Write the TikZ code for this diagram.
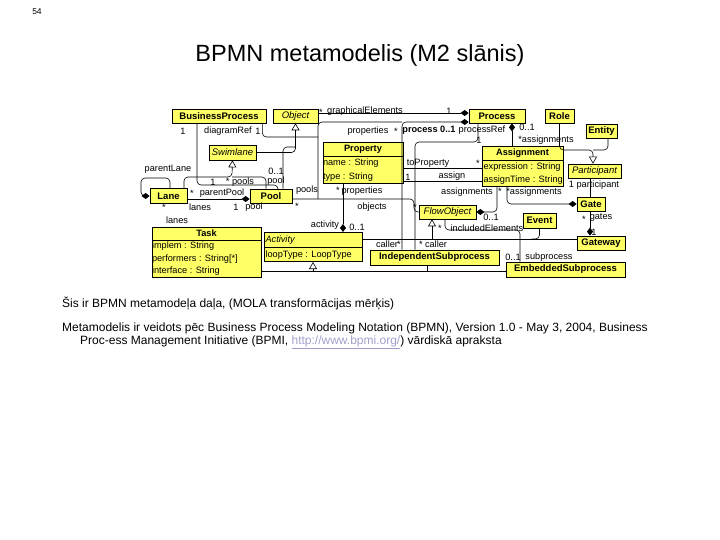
\documentclass[tikz,border=0pt]{standalone}
\usepackage{fontspec}
\setmainfont{Liberation Sans}
\usetikzlibrary{arrows.meta,positioning}
\definecolor{umlyellow}{RGB}{255,255,102}
\definecolor{linkgray}{RGB}{160,160,205}
\newcommand{\dfont}{\fontsize{9.2}{10.5}\selectfont}
\newcommand{\cfont}{\fontsize{9.5}{11}\selectfont}

\tikzset{
  cls/.style={draw, fill=umlyellow, font=\cfont\bfseries, inner sep=0pt, minimum height=14pt, line width=0.7pt},
  abscls/.style={cls, font=\cfont\itshape},
  multicls/.style={draw, fill=umlyellow, font=\dfont, inner sep=0pt, line width=0.7pt},
  lbl/.style={font=\dfont, inner sep=0pt},
  assoc/.style={line width=0.6pt, rounded corners=4pt},
  comp/.style={assoc, -{Diamond[length=8pt,width=6pt]}},
  gen/.style={assoc, -{Triangle[open,length=7pt,width=8pt]}},
}

\begin{document}
\begin{tikzpicture}[x=1pt,y=-1pt]
\useasboundingbox (0,0) rectangle (720,540);

% page number, title and notes
\node[font=\fontsize{8.5}{9}\selectfont] (pagenum) at (37,12) {54};
\node[font=\fontsize{23.5}{27}\selectfont] (title) at (360,55) {BPMN metamodelis (M2 slānis)};
\node[anchor=west, font=\fontsize{12}{14}\selectfont, inner sep=0pt] (note1) at (62,304) {Šis ir BPMN metamodeļa daļa, (MOLA transformācijas mērķis)};
\node[anchor=west, font=\fontsize{12}{14}\selectfont, inner sep=0pt] (note2) at (62,328) {Metamodelis ir veidots pēc Business Process Modeling Notation (BPMN), Version 1.0 - May 3, 2004, Business};
\node[anchor=west, font=\fontsize{12}{14}\selectfont, inner sep=0pt] (note3) at (80,342) {Proc-ess Management Initiative (BPMI, {\color{linkgray}\underline{http://www.bpmi.org/}}) vārdiskā apraksta};

% classes
\node[cls, minimum width=94pt] (BusinessProcess) at (219,116) {BusinessProcess};
\node[abscls, minimum width=45pt] (Object) at (295.5,116) {Object};
\node[cls, minimum width=56pt] (Process) at (497,116) {Process};
\node[cls, minimum width=29pt] (Role) at (559.5,116) {Role};
\node[cls, minimum width=31pt] (Entity) at (601.5,131) {Entity};
\node[abscls, minimum width=47pt, minimum height=15pt] (Swimlane) at (232.5,152.5) {Swimlane};
\node[abscls, minimum width=53pt] (Participant) at (594.5,171) {Participant};
\node[cls, minimum width=37pt, minimum height=15pt] (Lane) at (168.5,196) {Lane};
\node[cls, minimum width=42pt] (Pool) at (271,196) {Pool};
\node[cls, minimum width=28pt] (Gate) at (591,204) {Gate};
\node[abscls, minimum width=57pt] (FlowObject) at (447.5,212) {FlowObject};
\node[cls, minimum width=33pt, minimum height=15pt] (Event) at (539.5,220.5) {Event};
\node[cls, minimum width=48pt] (Gateway) at (601,243) {Gateway};
\node[cls, minimum width=129pt, minimum height=15pt] (IndependentSubprocess) at (434.5,257.5) {IndependentSubprocess};
\node[cls, minimum width=119pt, minimum height=15pt] (EmbeddedSubprocess) at (565.5,269.5) {EmbeddedSubprocess};
\node[multicls] (Property) at (363,163) {\def\arraystretch{1.3}\begin{tabular}{@{}p{80pt}@{}}
  \centering\bfseries Property\tabularnewline\hline
  name : String\tabularnewline type : String\end{tabular}};
\node[multicls] (Assignment) at (522.5,166.5) {\def\arraystretch{1.27}\begin{tabular}{@{}p{81pt}@{}}
  \centering\bfseries Assignment\tabularnewline\hline
  \,expression : String\tabularnewline \,assignTime : String\end{tabular}};
\node[multicls] (Task) at (206.5,252.5) {\def\arraystretch{1.18}\begin{tabular}{@{}p{109pt}@{}}
  \centering\bfseries Task\tabularnewline\hline
  implem : String\tabularnewline performers : String[*]\tabularnewline interface : String\end{tabular}};
\node[multicls] (Activity) at (313,247) {\def\arraystretch{1.38}\begin{tabular}{@{}p{98pt}@{}}
  \,\itshape Activity\tabularnewline\hline
  \,loopType : LoopType\end{tabular}};

% junctions
\coordinate (jProp) at (402,122);
\coordinate (jObj) at (318,199);
\coordinate (jSwim) at (232,177);
\coordinate (jPart) at (593,150);
\coordinate (jFlow) at (432,239);
\coordinate (jAct) at (313,271);

% associations
\draw[comp] ([yshift=3pt]Object.east) -- ([yshift=3pt]Process.west);
\draw[comp] (IndependentSubprocess.north -| jProp) |- ([yshift=-6pt]Process.west);
\draw[assoc] (jProp) -| (jObj);
\draw[assoc] ([xshift=-4pt]BusinessProcess.south east) |- (318,137);
\draw[assoc] (BusinessProcess.south -| 197,0) |- (278,185) -- (Pool.north -| 278,0);
\draw[assoc] (Pool.north -| 283,0) |- (295.5,147);
\draw[comp] (Lane.north -| 170,0) |- (141,178) |- (Lane.west);
\draw[comp] (Lane.east |- 0,199) -- (Pool.west |- 0,199);
\draw[assoc] (Pool.east |- jObj) -- (414,199) |- (FlowObject.west);
\draw[comp] (Property.south -| 343,0) -- (Activity.north -| 343,0);
\draw[assoc] (Assignment.west |- 0,168) -- (Property.east |- 0,168);
\draw[assoc] (Assignment.west |- 0,181) -- (Property.east |- 0,181);
\draw[assoc] (Process.south -| 478,0) |- (415,142) -- (IndependentSubprocess.north -| 415,0);
\draw[comp] (Assignment.north -| 512,0) -- (Process.south -| 512,0);
\draw[comp] (Assignment.south -| 497,0) |- (FlowObject.east);
\draw[comp] (Assignment.south -| 507,0) |- (Gate.west);
\draw[assoc] (Gate.north -| 590,0) -- (Participant.south -| 590,0);
\draw[comp] (Gate.south -| 590,0) -- (Gateway.north -| 590,0);
\draw[assoc] (FlowObject.south -| 445,0) |- (520,230) -- (EmbeddedSubprocess.north -| 520,0);

% generalizations
\draw[gen] (Lane.north -| 184,0) |- (jSwim) -- (Swimlane.south);
\draw[assoc] (Pool.north -| 266,0) |- (jSwim);
\draw[gen] (Swimlane.east) -| (Object.south);
\draw[gen] (Role.south) |- (jPart) -- (Participant.north -| jPart);
\draw[assoc] (Entity.south -| 608,0) |- (jPart);
\draw[assoc] (Activity.east |- jFlow) -- (Gateway.west |- jFlow);
\draw[gen] (jFlow) -- (FlowObject.south -| jFlow);
\draw[assoc] (Event.south) |- ([xshift=-8pt]Event.south |- jFlow);
\draw[gen] (jAct) -- (Activity.south);
\draw[assoc] (Task.east |- jAct) -- (EmbeddedSubprocess.west |- jAct);
\draw[assoc] (IndependentSubprocess.south -| 427,0) -- (427,271);

% role names and multiplicities
\node[lbl] (mGe) at (321,112) {*};
\node[lbl] (rGe) at (365,111) {graphicalElements};
\node[lbl] (mGeP) at (449,111) {1};
\node[lbl] (mPools1) at (183,131) {1};
\node[lbl] (rDiag) at (228,131) {diagramRef};
\node[lbl] (mDiag) at (258,131) {1};
\node[lbl] (rProps) at (368,131) {properties};
\node[lbl] (mProps) at (396,131) {*};
\node[lbl, font=\dfont\bfseries] (rProc) at (429,130) {process 0..1};
\node[lbl] (rProcRef) at (482,130) {processRef};
\node[lbl] (mProcRef) at (479,140) {1};
\node[lbl] (mAsgP) at (527,127) {0..1};
\node[lbl] (rAsgP) at (546,140) {*assignments};
\node[lbl] (rParLane) at (168,169) {parentLane};
\node[lbl] (mPool) at (276,171) {0..1};
\node[lbl] (rPool) at (276,181) {pool};
\node[lbl] (mPools2) at (213,182) {1};
\node[lbl] (rPools) at (240,182) {* pools};
\node[lbl] (rToProp) at (428,163) {toProperty};
\node[lbl] (mToProp) at (478,163) {*};
\node[lbl] (mAssign) at (408,177) {1};
\node[lbl] (rAssign) at (452,176) {assign};
\node[lbl] (rPart) at (594,185) {1 participant};
\node[lbl] (rPools3) at (307,190) {pools};
\node[lbl] (mPropsA) at (338,190) {*};
\node[lbl] (rPropsA) at (362,191) {properties};
\node[lbl] (rAsgF) at (467,192) {assignments};
\node[lbl] (mAsgF) at (500,191) {*};
\node[lbl] (rAsgG) at (534,192) {*assignments};
\node[lbl] (mParPool) at (192,193) {*};
\node[lbl] (rParPool) at (222,193) {parentPool};
\node[lbl] (mLanes) at (164,207) {*};
\node[lbl] (rLanes) at (200,207) {lanes};
\node[lbl] (mPoolL) at (236,207) {1};
\node[lbl] (rPoolL) at (254,207) {pool};
\node[lbl] (mObjP) at (297,206) {*};
\node[lbl] (rLanes2) at (177,220) {lanes};
\node[lbl] (rObj) at (372,207) {objects};
\node[lbl] (mObj) at (415,207) {*};
\node[lbl] (mAsgF2) at (491,217) {0..1};
\node[lbl] (mGates) at (584,219) {*};
\node[lbl] (rGates) at (601,217) {gates};
\node[lbl] (mGateway) at (594,232) {1};
\node[lbl] (mIncl) at (440,228) {*};
\node[lbl] (rIncl) at (487,228) {includedElements};
\node[lbl] (rAct) at (325,225) {activity};
\node[lbl] (mAct) at (357,227) {0..1};
\node[lbl] (rCaller1) at (387,244) {caller};
\node[lbl] (mCaller1) at (399,244) {*};
\node[lbl] (mCaller2) at (421,244) {*};
\node[lbl] (rCaller2) at (436,244) {caller};
\node[lbl] (mSub) at (513,257) {0..1};
\node[lbl] (rSub) at (549,257) {subprocess};
\end{tikzpicture}
\end{document}
